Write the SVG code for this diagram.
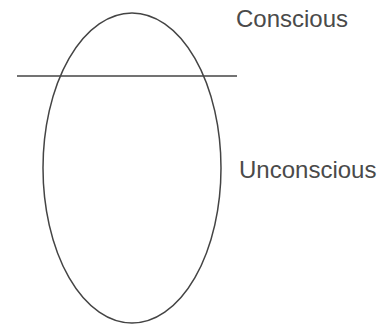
<svg xmlns="http://www.w3.org/2000/svg" width="391" height="325" viewBox="0 0 391 325">
<style>
.s{fill:none;stroke:#444;stroke-width:1.5}
.t{font-family:"Liberation Sans",Arial,sans-serif;font-size:24px;fill:#4a4a4a}
</style>
<rect width="391" height="325" fill="#fff"/>
<g id="mind"><ellipse class="s" cx="132" cy="168" rx="89" ry="155"/></g>
<g id="connectors"><line class="s" x1="17" y1="76" x2="237" y2="76"/></g>
<g id="conscious"><text class="t" x="236" y="27">Conscious</text></g>
<g id="unconscious"><text class="t" x="239" y="178">Unconscious</text></g>
</svg>
